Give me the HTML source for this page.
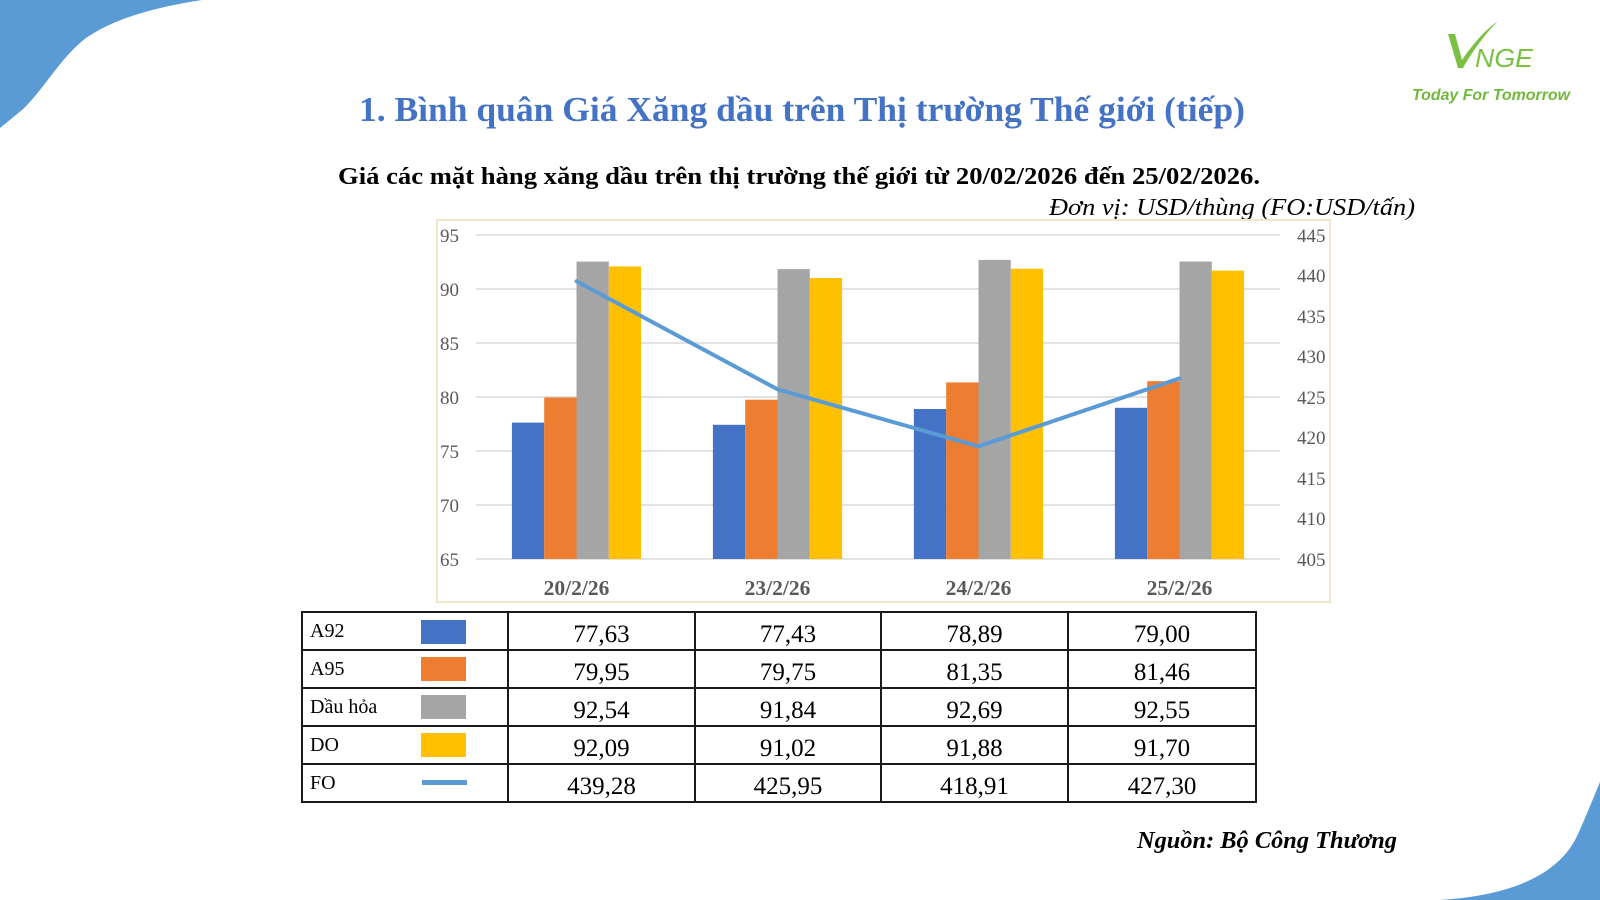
<!DOCTYPE html>
<html>
<head>
<meta charset="utf-8">
<style>
  html,body{margin:0;padding:0;background:#fff;}
  svg{display:block;}
  .tnr{font-family:"Liberation Serif","Noto Serif CJK SC",serif;}
  .sans{font-family:"Liberation Sans","DejaVu Sans",sans-serif;}
</style>
</head>
<body>
<svg width="1600" height="900" viewBox="0 0 1600 900" xmlns="http://www.w3.org/2000/svg">
  <rect x="0" y="0" width="1600" height="900" fill="#ffffff"/>

  <!-- decorative corner shapes -->
  <path d="M0,0 L202,0 C150,8 112,20 86,38 C60,58 42,92 22,110 L0,128 Z" fill="#5B9BD5"/>
  <path d="M1440,900 C1520,895 1562,870 1578,834 C1588,812 1594,796 1600,782 L1600,900 Z" fill="#5B9BD5"/>

  <!-- logo -->
  <path d="M1448,34 L1455,34 L1462,60 C1472,45 1485,30 1498,21 C1487,32 1473,50 1463,68 L1458,68 Z" fill="#7AC143"/>
  <text class="sans" x="1475" y="67" font-size="26" font-style="italic" fill="#7AC143" textLength="58" lengthAdjust="spacingAndGlyphs">NGE</text>
  <text class="sans" x="1412" y="100" font-size="16" font-weight="bold" font-style="italic" fill="#72B83C" textLength="158" lengthAdjust="spacingAndGlyphs">Today For Tomorrow</text>

  <!-- titles -->
  <text class="tnr" x="359" y="121" font-size="35" font-weight="bold" fill="#4472C4" textLength="886" lengthAdjust="spacingAndGlyphs">1. Bình quân Giá Xăng dầu trên Thị trường Thế giới (tiếp)</text>
  <text class="tnr" x="338" y="184" font-size="24" font-weight="bold" fill="#000" textLength="922" lengthAdjust="spacingAndGlyphs">Giá các mặt hàng xăng dầu trên thị trường thế giới từ 20/02/2026 đến 25/02/2026.</text>
  <text class="tnr" x="1049" y="215" font-size="24" font-style="italic" fill="#000" textLength="366" lengthAdjust="spacingAndGlyphs">Đơn vị: USD/thùng (FO:USD/tấn)</text>

  <!-- chart box -->
  <rect x="437" y="220" width="893" height="382" fill="#fff" stroke="#F2E6C9" stroke-width="2"/>

  <!-- gridlines -->
  <g stroke="#D9D9D9" stroke-width="1.5">
    <line x1="476" y1="235" x2="1280" y2="235"/>
    <line x1="476" y1="289" x2="1280" y2="289"/>
    <line x1="476" y1="343" x2="1280" y2="343"/>
    <line x1="476" y1="397" x2="1280" y2="397"/>
    <line x1="476" y1="451" x2="1280" y2="451"/>
    <line x1="476" y1="505" x2="1280" y2="505"/>
    <line x1="476" y1="559" x2="1280" y2="559"/>
  </g>

  <!-- left axis labels -->
  <g class="tnr" font-size="19" fill="#595959" text-anchor="end">
    <text x="459" y="242">95</text>
    <text x="459" y="296">90</text>
    <text x="459" y="350">85</text>
    <text x="459" y="404">80</text>
    <text x="459" y="458">75</text>
    <text x="459" y="512">70</text>
    <text x="459" y="566">65</text>
  </g>
  <!-- right axis labels -->
  <g class="tnr" font-size="19" fill="#595959" text-anchor="start">
    <text x="1297" y="242">445</text>
    <text x="1297" y="282">440</text>
    <text x="1297" y="323">435</text>
    <text x="1297" y="363">430</text>
    <text x="1297" y="404">425</text>
    <text x="1297" y="444">420</text>
    <text x="1297" y="485">415</text>
    <text x="1297" y="525">410</text>
    <text x="1297" y="566">405</text>
  </g>

  <!-- bars -->
  <rect x="511.9" y="422.6" width="32.3" height="136.4" fill="#4472C4"/>
  <rect x="544.2" y="397.5" width="32.3" height="161.5" fill="#ED7D31"/>
  <rect x="576.5" y="261.6" width="32.3" height="297.4" fill="#A5A5A5"/>
  <rect x="608.8" y="266.4" width="32.3" height="292.6" fill="#FFC000"/>

  <rect x="712.9" y="424.8" width="32.3" height="134.2" fill="#4472C4"/>
  <rect x="745.2" y="399.7" width="32.3" height="159.3" fill="#ED7D31"/>
  <rect x="777.5" y="269.1" width="32.3" height="289.9" fill="#A5A5A5"/>
  <rect x="809.8" y="278.0" width="32.3" height="281.0" fill="#FFC000"/>

  <rect x="913.9" y="409.0" width="32.3" height="150.0" fill="#4472C4"/>
  <rect x="946.2" y="382.4" width="32.3" height="176.6" fill="#ED7D31"/>
  <rect x="978.5" y="259.9" width="32.3" height="299.1" fill="#A5A5A5"/>
  <rect x="1010.8" y="268.7" width="32.3" height="290.3" fill="#FFC000"/>

  <rect x="1114.9" y="407.8" width="32.3" height="151.2" fill="#4472C4"/>
  <rect x="1147.2" y="381.2" width="32.3" height="177.8" fill="#ED7D31"/>
  <rect x="1179.5" y="261.5" width="32.3" height="297.5" fill="#A5A5A5"/>
  <rect x="1211.8" y="270.6" width="32.3" height="288.4" fill="#FFC000"/>

  <!-- FO line -->
  <polyline points="576.5,281.3 777.5,389.3 978.5,446.3 1179.5,378.4" fill="none" stroke="#5B9BD5" stroke-width="4" stroke-linejoin="round" stroke-linecap="round"/>

  <!-- category labels -->
  <g class="tnr" font-size="21.5" font-weight="bold" fill="#595959" text-anchor="middle">
    <text x="576.5" y="595">20/2/26</text>
    <text x="777.5" y="595">23/2/26</text>
    <text x="978.5" y="595">24/2/26</text>
    <text x="1179.5" y="595">25/2/26</text>
  </g>

  <!-- data table -->
  <g stroke="#1a1a1a" stroke-width="2" fill="none">
    <rect x="302" y="612" width="954" height="190"/>
    <line x1="302" y1="650" x2="1256" y2="650"/>
    <line x1="302" y1="688" x2="1256" y2="688"/>
    <line x1="302" y1="726" x2="1256" y2="726"/>
    <line x1="302" y1="764" x2="1256" y2="764"/>
    <line x1="508" y1="612" x2="508" y2="802"/>
    <line x1="695" y1="612" x2="695" y2="802"/>
    <line x1="881" y1="612" x2="881" y2="802"/>
    <line x1="1068" y1="612" x2="1068" y2="802"/>
  </g>

  <g class="tnr" font-size="20" fill="#000">
    <text x="310" y="637">A92</text>
    <text x="310" y="675">A95</text>
    <text x="310" y="713">Dầu hỏa</text>
    <text x="310" y="751">DO</text>
    <text x="310" y="789">FO</text>
  </g>
  <rect x="421" y="620" width="45" height="24" fill="#4472C4"/>
  <rect x="421" y="657" width="45" height="24" fill="#ED7D31"/>
  <rect x="421" y="695" width="45" height="24" fill="#A5A5A5"/>
  <rect x="421" y="733" width="45" height="24" fill="#FFC000"/>
  <rect x="422" y="780" width="45" height="5" fill="#5B9BD5"/>

  <g class="tnr" font-size="25" fill="#000" text-anchor="middle">
    <text x="601.5" y="642">77,63</text>
    <text x="788" y="642">77,43</text>
    <text x="974.5" y="642">78,89</text>
    <text x="1162" y="642">79,00</text>

    <text x="601.5" y="680">79,95</text>
    <text x="788" y="680">79,75</text>
    <text x="974.5" y="680">81,35</text>
    <text x="1162" y="680">81,46</text>

    <text x="601.5" y="718">92,54</text>
    <text x="788" y="718">91,84</text>
    <text x="974.5" y="718">92,69</text>
    <text x="1162" y="718">92,55</text>

    <text x="601.5" y="756">92,09</text>
    <text x="788" y="756">91,02</text>
    <text x="974.5" y="756">91,88</text>
    <text x="1162" y="756">91,70</text>

    <text x="601.5" y="794">439,28</text>
    <text x="788" y="794">425,95</text>
    <text x="974.5" y="794">418,91</text>
    <text x="1162" y="794">427,30</text>
  </g>

  <!-- source -->
  <text class="tnr" x="1137" y="848" font-size="24" font-weight="bold" font-style="italic" fill="#000" textLength="260" lengthAdjust="spacingAndGlyphs">Nguồn: Bộ Công Thương</text>
</svg>
</body>
</html>
